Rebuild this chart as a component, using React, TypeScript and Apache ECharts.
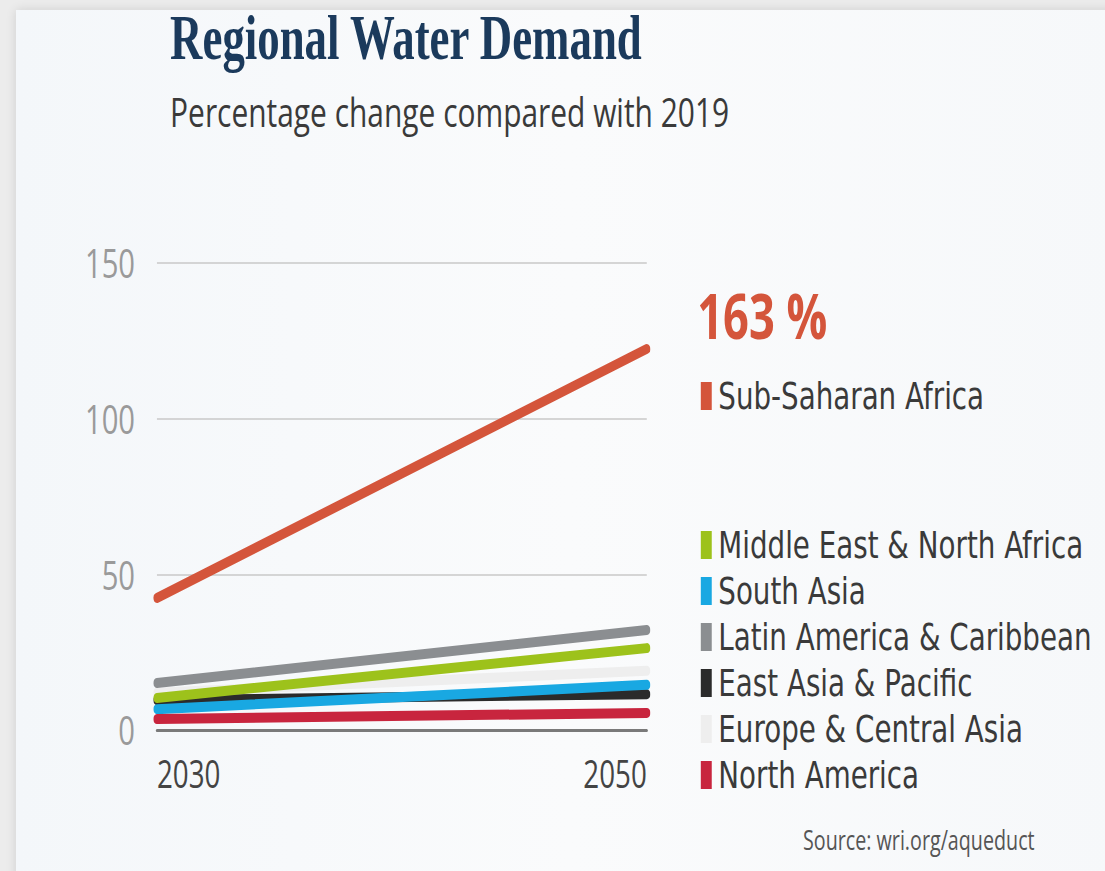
import React, { useEffect, useRef } from "react";
import * as echarts from "echarts";

const years = ["2030", "2050"];
const seriesNames = [
  "Sub-Saharan Africa",
  "Middle East & North Africa",
  "South Asia",
  "Latin America & Caribbean",
  "East Asia & Pacific",
  "Europe & Central Asia",
  "North America",
];
const seriesColors = ["#d4553b", "#9dc21b", "#19a8e2", "#8b8e91", "#2b2b2b", "#eeeeee", "#c8253e"];
const subSaharanAfrica = [42.4, 122.4];
const middleEastNorthAfrica = [10.3, 26.3];
const southAsia = [6.7, 14.5];
const latinAmericaCaribbean = [15.1, 32.1];
const eastAsiaPacific = [9.6, 11.5];
const europeCentralAsia = [12, 19];
const northAmerica = [3.5, 5.5];
const yTicks = [0, 50, 100, 150];
const headlineValue = "163 %";

const SX = 0.73;
const W = Math.round(1105 / SX);
const H = 871;

export default function App() {
  const ref = useRef<HTMLDivElement>(null);
  useEffect(() => {
    if (!ref.current) return;
    const chart = echarts.init(ref.current, null, { renderer: "svg", width: W, height: H });
    const values = [
      subSaharanAfrica,
      middleEastNorthAfrica,
      southAsia,
      latinAmericaCaribbean,
      eastAsiaPacific,
      europeCentralAsia,
      northAmerica,
    ];
    // drawing order (bottom to top)
    const drawOrder = [5, 4, 2, 1, 3, 6, 0];
    const series = drawOrder.map((i, k) => ({
      name: seriesNames[i],
      type: "line",
      data: values[i],
      showSymbol: false,
      symbol: "none",
      z: 2 + k,
      lineStyle: { width: 10, color: seriesColors[i], cap: "round" },
      itemStyle: { color: seriesColors[i] },
    }));
    const font = "'Open Sans', sans-serif";
    const legendText = { fontFamily: "'DejaVu Sans', sans-serif", fontSize: 38, color: "#3a3a3a", padding: [0, 0, 0, 4] };
    chart.setOption({
      animation: false,
      backgroundColor: "transparent",
      grid: { left: 215, right: W - 886, top: 263, bottom: H - 730, containLabel: false },
      xAxis: {
        type: "category",
        data: years,
        boundaryGap: false,
        axisLine: { show: true, lineStyle: { color: "#7a7a7a", width: 3 } },
        axisTick: { show: false },
        splitLine: { show: false },
        axisLabel: {
          fontFamily: font,
          fontSize: 38,
          color: "#444",
          margin: 24,
          alignMinLabel: "left",
          alignMaxLabel: "right",
        },
      },
      yAxis: {
        type: "value",
        min: yTicks[0],
        max: yTicks[yTicks.length - 1],
        interval: 50,
        axisLine: { show: false },
        axisTick: { show: false },
        splitLine: { lineStyle: { color: "#c9c9c9", width: 1.5 } },
        axisLabel: { fontFamily: font, fontSize: 40, color: "#9a9a9a", margin: 30 },
      },
      legend: [
        {
          data: [seriesNames[0]],
          orient: "vertical",
          left: 955,
          top: 372,
          icon: "rect",
          itemWidth: 15,
          itemHeight: 28,
          itemGap: 8,
          selectedMode: false,
          textStyle: legendText,
        },
        {
          data: seriesNames.slice(1),
          orient: "vertical",
          left: 955,
          top: 521,
          icon: "rect",
          itemWidth: 15,
          itemHeight: 28,
          itemGap: 8,
          selectedMode: false,
          textStyle: legendText,
        },
      ],
      graphic: [
        {
          type: "text",
          left: 233,
          top: 6,
          scaleX: 0.96,
          style: {
            text: "Regional Water Demand",
            fontFamily: "'Liberation Serif', serif",
            fontWeight: "bold",
            fontSize: 64,
            fill: "#1b3a5c",
          },
        },
        {
          type: "text",
          left: 233,
          top: 91,
          style: {
            text: "Percentage change compared with 2019",
            fontFamily: font,
            fontSize: 41,
            fill: "#3a3a3a",
          },
        },
        {
          type: "text",
          left: 955,
          top: 284,
          style: {
            text: headlineValue,
            fontFamily: font,
            fontWeight: "bold",
            fontSize: 62,
            fill: "#d4553b",
          },
        },
        {
          type: "text",
          left: 1100,
          top: 826,
          style: {
            text: "Source: wri.org/aqueduct",
            fontFamily: font,
            fontSize: 27,
            fill: "#555",
          },
        },
      ],
      series,
    });
    return () => chart.dispose();
  }, []);

  return (
    <div style={{ position: "fixed", left: 0, top: 0, width: 1105, height: 871, overflow: "hidden", background: "#ececec" }}>
      <div
        style={{
          position: "absolute",
          left: 16,
          top: 10,
          width: 1105,
          height: 880,
          background: "linear-gradient(90deg, #f4f7fa, #fafbfc 50%, #f6f8fa)",
          boxShadow: "0 0 10px rgba(0,0,0,0.12)",
        }}
      />
      <div
        ref={ref}
        style={{
          position: "absolute",
          left: 0,
          top: 0,
          width: W,
          height: H,
          transform: `scaleX(${SX})`,
          transformOrigin: "0 0",
        }}
      />
    </div>
  );
}
